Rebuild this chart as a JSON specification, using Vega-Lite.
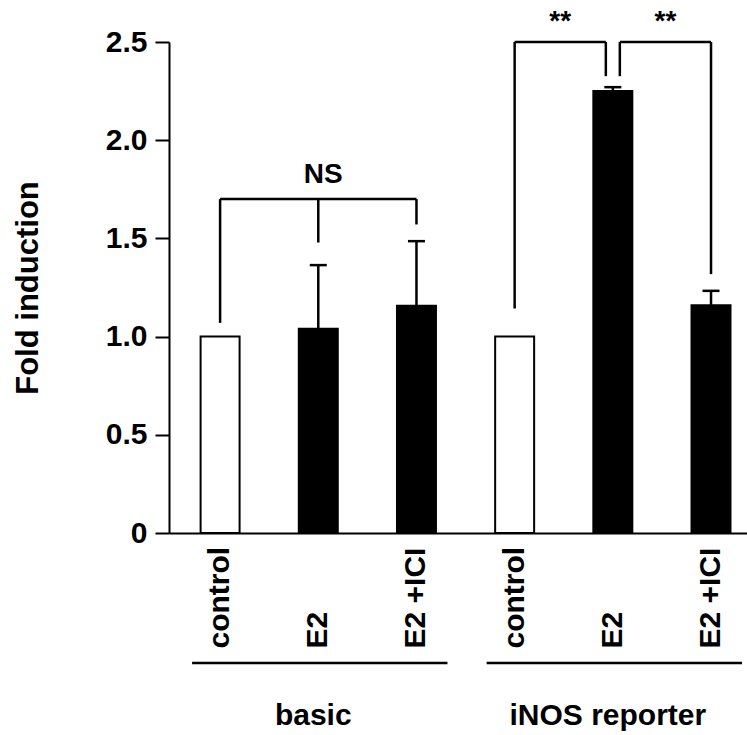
{
  "$schema": "https://vega.github.io/schema/vega-lite/v6.json",
  "width": 578,
  "height": 491,
  "autosize": {"type": "none"},
  "padding": {"left": 169, "top": 42, "right": 0, "bottom": 202},
  "background": "white",
  "config": {
    "view": {"stroke": null},
    "font": "Liberation Sans",
    "text": {"font": "Liberation Sans", "fontWeight": "bold", "fontSize": 30, "color": "black"},
    "rule": {"color": "black"}
  },
  "datasets": {
    "bars": [
      {"id": "basic|control", "group": "basic", "treatment": "control", "mean": 1.0},
      {"id": "basic|E2", "group": "basic", "treatment": "E2", "mean": 1.04, "upper": 1.364},
      {"id": "basic|E2 +ICI", "group": "basic", "treatment": "E2 +ICI", "mean": 1.157, "upper": 1.486},
      {"id": "iNOS reporter|control", "group": "iNOS reporter", "treatment": "control", "mean": 1.0},
      {"id": "iNOS reporter|E2", "group": "iNOS reporter", "treatment": "E2", "mean": 2.251, "upper": 2.27},
      {"id": "iNOS reporter|E2 +ICI", "group": "iNOS reporter", "treatment": "E2 +ICI", "mean": 1.16, "upper": 1.233}
    ],
    "brackets": [
      {"cmp": "NS", "from": "basic|control", "to": "basic|E2 +ICI", "level": 1.70},
      {"cmp": "ctrl-E2", "from": "iNOS reporter|control", "to": "iNOS reporter|E2", "level": 2.5},
      {"cmp": "E2-ICI", "from": "iNOS reporter|E2", "to": "iNOS reporter|E2 +ICI", "level": 2.5}
    ],
    "legs": [
      {"cmp": "NS", "at": "basic|control", "top": 1.70, "bottom": 1.07},
      {"cmp": "NS", "at": "basic|E2", "top": 1.70, "bottom": 1.479},
      {"cmp": "NS", "at": "basic|E2 +ICI", "top": 1.70, "bottom": 1.571},
      {"cmp": "ctrl-E2", "at": "iNOS reporter|control", "top": 2.5, "bottom": 1.143},
      {"cmp": "ctrl-E2", "at": "iNOS reporter|E2", "top": 2.5, "bottom": 2.326},
      {"cmp": "E2-ICI", "at": "iNOS reporter|E2", "top": 2.5, "bottom": 2.326},
      {"cmp": "E2-ICI", "at": "iNOS reporter|E2 +ICI", "top": 2.5, "bottom": 1.318}
    ],
    "marks": [
      {"cmp": "NS", "label": "NS", "at": "basic|E2", "level": 1.781},
      {"cmp": "ctrl-E2", "label": "**", "at": "iNOS reporter|control", "level": 2.56},
      {"cmp": "E2-ICI", "label": "**", "at": "iNOS reporter|E2", "level": 2.56}
    ],
    "groups": [
      {"group": "basic", "first": "basic|control", "mid": "basic|E2", "last": "basic|E2 +ICI"},
      {"group": "iNOS reporter", "first": "iNOS reporter|control", "mid": "iNOS reporter|E2", "last": "iNOS reporter|E2 +ICI"}
    ]
  },
  "layer": [
    {
      "data": {"name": "bars"},
      "mark": {"type": "bar", "stroke": "black", "strokeWidth": 2},
      "encoding": {
        "x": {
          "field": "id", "type": "nominal", "sort": null,
          "scale": {
            "domain": ["basic|control", "basic|E2", "basic|E2 +ICI", "iNOS reporter|control", "iNOS reporter|E2", "iNOS reporter|E2 +ICI"],
            "paddingInner": 0.603, "paddingOuter": 0.245, "align": 0.657
          },
          "axis": {
            "title": null, "domain": true, "domainColor": "black", "domainWidth": 2,
            "ticks": false, "tickSize": 0, "labelAngle": -90, "labelAlign": "left", "labelBaseline": "middle",
            "labelPadding": 115, "labelFont": "Liberation Sans", "labelFontWeight": "bold", "labelFontSize": 30,
            "labelColor": "black", "labelExpr": "split(datum.value, '|')[1]",
            "labelOverlap": false, "labelBound": false, "labelFlush": false
          }
        },
        "y": {
          "field": "mean", "type": "quantitative",
          "scale": {"domain": [0, 2.5], "nice": false, "zero": true},
          "axis": {
            "title": "Fold induction", "values": [0, 0.5, 1, 1.5, 2, 2.5],
            "labelExpr": "datum.value == 0 ? '0' : format(datum.value, '.1f')",
            "grid": false, "domainColor": "black", "domainWidth": 2,
            "tickColor": "black", "tickWidth": 2, "tickSize": 14, "labelPadding": 8,
            "labelFont": "Liberation Sans", "labelFontSize": 30, "labelFontWeight": "bold", "labelColor": "black",
            "titleFont": "Liberation Sans", "titleFontSize": 31, "titleFontWeight": "bold", "titleColor": "black",
            "titleX": -141, "titleY": 245.5, "titleAngle": -90, "titleAlign": "center", "titleBaseline": "middle",
            "labelFlush": false, "labelOverlap": false, "labelBound": false
          }
        },
        "fill": {
          "field": "treatment", "type": "nominal",
          "scale": {"domain": ["control", "E2", "E2 +ICI"], "range": ["white", "black", "black"]},
          "legend": null
        }
      }
    },
    {
      "data": {"name": "bars"},
      "transform": [{"filter": "isValid(datum.upper)"}],
      "mark": {"type": "rule", "strokeWidth": 2.5, "color": "black"},
      "encoding": {
        "x": {"field": "id", "type": "nominal"},
        "y": {"field": "mean", "type": "quantitative"},
        "y2": {"field": "upper"}
      }
    },
    {
      "data": {"name": "bars"},
      "transform": [{"filter": "isValid(datum.upper)"}],
      "mark": {"type": "tick", "orient": "horizontal", "size": 17, "thickness": 2.5, "color": "black", "opacity": 1},
      "encoding": {
        "x": {"field": "id", "type": "nominal"},
        "y": {"field": "upper", "type": "quantitative"}
      }
    },
    {
      "data": {"name": "brackets"},
      "transform": [{"filter": "datum.cmp == 'NS'"}],
      "mark": {"type": "rule", "strokeWidth": 2.5, "color": "black"},
      "encoding": {
        "x": {"field": "from", "type": "nominal"},
        "x2": {"field": "to"},
        "y": {"field": "level", "type": "quantitative"}
      }
    },
    {
      "data": {"name": "brackets"},
      "transform": [{"filter": "datum.cmp == 'ctrl-E2'"}],
      "mark": {"type": "rule", "strokeWidth": 2.5, "color": "black", "x2Offset": -7},
      "encoding": {
        "x": {"field": "from", "type": "nominal"},
        "x2": {"field": "to"},
        "y": {"field": "level", "type": "quantitative"}
      }
    },
    {
      "data": {"name": "brackets"},
      "transform": [{"filter": "datum.cmp == 'E2-ICI'"}],
      "mark": {"type": "rule", "strokeWidth": 2.5, "color": "black", "xOffset": 7},
      "encoding": {
        "x": {"field": "from", "type": "nominal"},
        "x2": {"field": "to"},
        "y": {"field": "level", "type": "quantitative"}
      }
    },
    {
      "data": {"name": "legs"},
      "transform": [{"filter": "datum.at != 'iNOS reporter|E2'"}],
      "mark": {"type": "rule", "strokeWidth": 2.5, "color": "black"},
      "encoding": {
        "x": {"field": "at", "type": "nominal"},
        "y": {"field": "top", "type": "quantitative"},
        "y2": {"field": "bottom"}
      }
    },
    {
      "data": {"name": "legs"},
      "transform": [{"filter": "datum.at == 'iNOS reporter|E2' && datum.cmp == 'ctrl-E2'"}],
      "mark": {"type": "rule", "strokeWidth": 2.5, "color": "black", "xOffset": -7},
      "encoding": {
        "x": {"field": "at", "type": "nominal"},
        "y": {"field": "top", "type": "quantitative"},
        "y2": {"field": "bottom"}
      }
    },
    {
      "data": {"name": "legs"},
      "transform": [{"filter": "datum.at == 'iNOS reporter|E2' && datum.cmp == 'E2-ICI'"}],
      "mark": {"type": "rule", "strokeWidth": 2.5, "color": "black", "xOffset": 7},
      "encoding": {
        "x": {"field": "at", "type": "nominal"},
        "y": {"field": "top", "type": "quantitative"},
        "y2": {"field": "bottom"}
      }
    },
    {
      "data": {"name": "marks"},
      "transform": [{"filter": "datum.cmp == 'NS'"}],
      "mark": {"type": "text", "baseline": "alphabetic", "align": "center", "dx": 5, "fontSize": 28, "fontWeight": "bold", "font": "Liberation Sans", "color": "black"},
      "encoding": {
        "x": {"field": "at", "type": "nominal"},
        "y": {"field": "level", "type": "quantitative"},
        "text": {"field": "label"}
      }
    },
    {
      "data": {"name": "marks"},
      "transform": [{"filter": "datum.cmp == 'ctrl-E2'"}],
      "mark": {"type": "text", "baseline": "alphabetic", "align": "center", "dx": 45.6, "fontSize": 28, "fontWeight": "bold", "font": "Liberation Sans", "color": "black"},
      "encoding": {
        "x": {"field": "at", "type": "nominal"},
        "y": {"field": "level", "type": "quantitative"},
        "text": {"field": "label"}
      }
    },
    {
      "data": {"name": "marks"},
      "transform": [{"filter": "datum.cmp == 'E2-ICI'"}],
      "mark": {"type": "text", "baseline": "alphabetic", "align": "center", "dx": 52.6, "fontSize": 28, "fontWeight": "bold", "font": "Liberation Sans", "color": "black"},
      "encoding": {
        "x": {"field": "at", "type": "nominal"},
        "y": {"field": "level", "type": "quantitative"},
        "text": {"field": "label"}
      }
    },
    {
      "data": {"name": "groups"},
      "mark": {"type": "rule", "strokeWidth": 2.5, "color": "black", "xOffset": -28, "x2Offset": 31},
      "encoding": {
        "x": {"field": "first", "type": "nominal"},
        "x2": {"field": "last"},
        "y": {"datum": -0.662, "type": "quantitative"}
      }
    },
    {
      "data": {"name": "groups"},
      "mark": {"type": "text", "baseline": "alphabetic", "align": "center", "dx": -5, "fontSize": 30, "fontWeight": "bold", "font": "Liberation Sans", "color": "black"},
      "encoding": {
        "x": {"field": "mid", "type": "nominal"},
        "y": {"datum": -0.977, "type": "quantitative"},
        "text": {"field": "group"}
      }
    }
  ]
}
